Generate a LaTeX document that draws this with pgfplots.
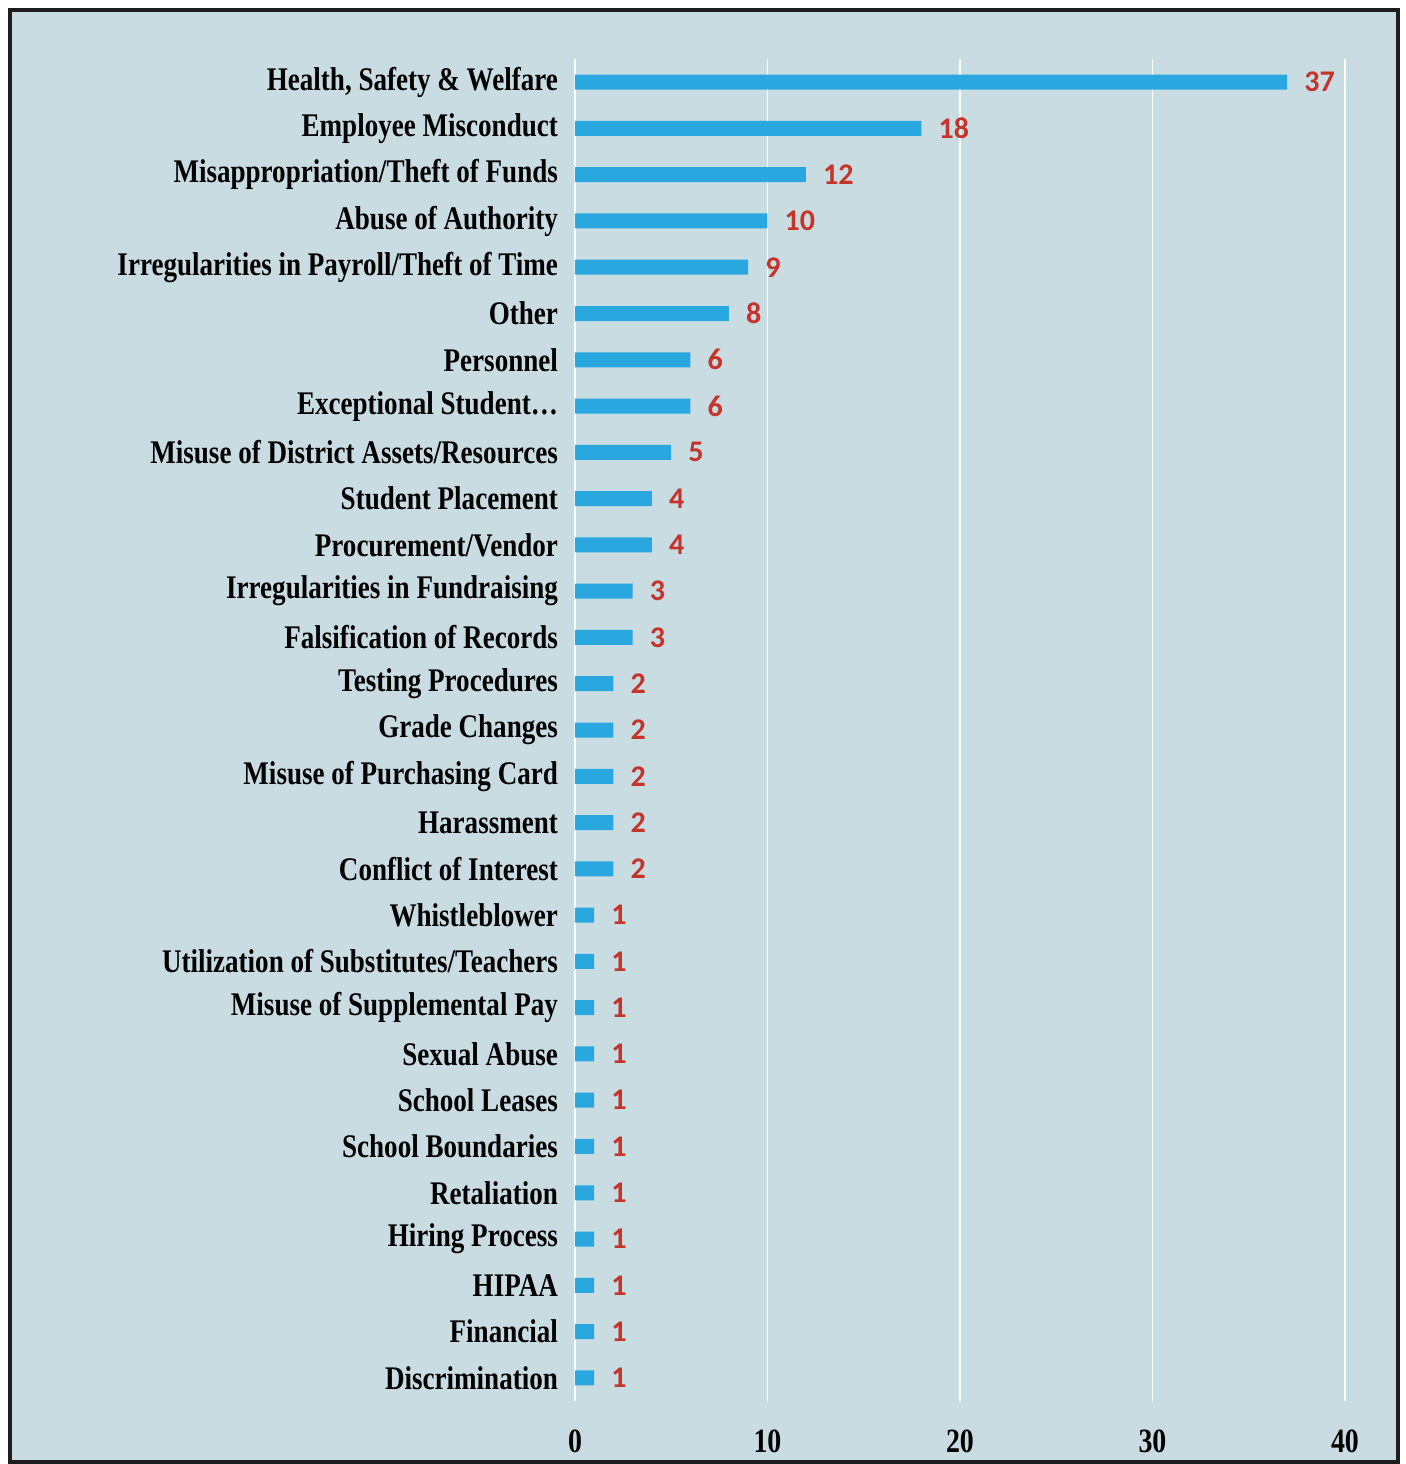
\documentclass[border=0pt]{standalone}
\usepackage{pgfplots}
\pgfplotsset{compat=1.18}
\usepackage{fontspec}
\setmainfont{Liberation Serif}
\newfontfamily\labfont[FakeStretch=0.82]{Liberation Serif}
\newfontfamily\valfont{Carlito}
\definecolor{bgc}{RGB}{201,220,226}
\definecolor{barc}{RGB}{42,167,223}
\definecolor{valc}{RGB}{196,52,42}
\definecolor{framec}{RGB}{30,30,30}
\begin{document}
\begin{tikzpicture}
% page and frame (1 px = 0.5pt, origin at the axis' lower left corner)
\fill[white] (-287.5pt,-31.5pt) rectangle (415.5pt,700.5pt);
\fill[bgc] (-282.5pt,-30.5pt) rectangle (411.5pt,695.5pt);
\draw[framec,line width=2pt] (-282.5pt,-30.5pt) rectangle (411.5pt,695.5pt);
\begin{axis}[
scale only axis,
width=385pt,
height=671pt,
xbar,
bar width=7.5pt,
xmin=0, xmax=40,
ymin=-0.5, ymax=28.5,
axis line style={draw=none},
xtick={0,10,20,30,40},
ytick={0,...,28},
major tick length=0pt,
xmajorgrids,
major grid style={white,line width=0.8pt},
/pgf/number format/assume math mode=true,
xticklabel style={font=\labfont\bfseries\fontsize{17}{19}\selectfont,yshift=-11pt},
yticklabel style={font=\labfont\bfseries\fontsize{16.5}{18}\selectfont,xshift=-5pt},
yticklabels={Discrimination,Financial,HIPAA,Hiring Process,Retaliation,School Boundaries,School Leases,Sexual Abuse,Misuse of Supplemental Pay,Utilization of Substitutes/Teachers,Whistleblower,Conflict of Interest,Harassment,Misuse of Purchasing Card,Grade Changes,Testing Procedures,Falsification of Records,Irregularities in Fundraising,Procurement/Vendor,Student Placement,Misuse of District Assets/Resources,Exceptional Student\ldots,Personnel,Other,Irregularities in Payroll/Theft of Time,Abuse of Authority,Misappropriation/Theft of Funds,Employee Misconduct,{Health, Safety \& Welfare}},
nodes near coords,
nodes near coords style={anchor=west,xshift=5pt,font=\valfont\bfseries\fontsize{15}{17}\selectfont,text=valc},
clip=false,
]
\addplot[fill=barc,draw=none] coordinates {
(1,0) (1,1) (1,2) (1,3) (1,4) (1,5) (1,6) (1,7) (1,8) (1,9) (1,10)
(2,11) (2,12) (2,13) (2,14) (2,15)
(3,16) (3,17)
(4,18) (4,19)
(5,20) (6,21) (6,22) (8,23) (9,24) (10,25) (12,26) (18,27) (37,28)
};
\end{axis}
\end{tikzpicture}
\end{document}
